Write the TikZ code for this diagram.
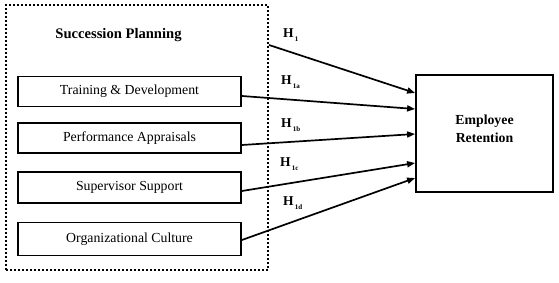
\documentclass[tikz,border=0pt]{standalone}
\usepackage{fontspec}
\setmainfont{Liberation Serif}
\usetikzlibrary{arrows.meta}
\begin{document}
\begin{tikzpicture}[x=1pt,y=-1pt,
  var/.style={draw,line width=1.8pt,minimum width=223pt,inner sep=0pt,font=\fontsize{13.8}{16}\selectfont},
  outcome/.style={draw,line width=1.8pt,minimum width=137pt,minimum height=117pt,inner sep=0pt},
  grp/.style={draw,line width=2pt,dash pattern=on 2pt off 2pt},
  link/.style={line width=1.7pt,-{Triangle[length=8pt,width=6pt]}},
  hyp/.style={anchor=base west,inner sep=0pt,font=\bfseries\fontsize{13.5}{15}\selectfont}
]
\useasboundingbox (0,0) rectangle (559,283);
\node[grp,minimum width=262pt,minimum height=265pt,inner sep=0pt] (sp) at (137,137.5) {};
\node[anchor=base,inner sep=0pt,font=\bfseries\fontsize{14.6}{16}\selectfont] (title) at (118.5,38.5) {Succession Planning};
\node[var,minimum height=30pt] (td) at (129.5,91.5) {Training \& Development};
\node[var,minimum height=30pt] (pa) at (129.5,138) {Performance Appraisals};
\node[var,minimum height=31pt] (ss) at (129.5,187.5) {Supervisor Support};
\node[var,minimum height=33pt] (oc) at (129.5,239) {Organizational Culture};
\node[outcome] (er) at (484.5,133.5) {};
\node[align=center,inner sep=0pt,font=\bfseries\fontsize{13.8}{17.5}\selectfont] (ert) at (484.5,129) {Employee\\Retention};
\draw[link] (sp.east |- 0,45) -- (er.west |- 0,93);
\draw[link] (td.east |- 0,96) -- (er.west |- 0,109);
\draw[link] (pa.east |- 0,145) -- (er.west |- 0,134);
\draw[link] (ss.east |- 0,191) -- (er.west |- 0,163);
\draw[link] (oc.east |- 0,240) -- (er.west |- 0,178);
\node[hyp] (h1) at (283,38) {H\raisebox{-4pt}{\fontsize{7}{8}\selectfont\,1}};
\node[hyp] (h1a) at (281,85) {H\raisebox{-4pt}{\fontsize{7}{8}\selectfont\,1a}};
\node[hyp] (h1b) at (281,128) {H\raisebox{-4pt}{\fontsize{7}{8}\selectfont\,1b}};
\node[hyp] (h1c) at (280,167) {H\raisebox{-4pt}{\fontsize{7}{8}\selectfont\,1c}};
\node[hyp] (h1d) at (283,205) {H\raisebox{-4pt}{\fontsize{7}{8}\selectfont\,1d}};
\end{tikzpicture}
\end{document}
